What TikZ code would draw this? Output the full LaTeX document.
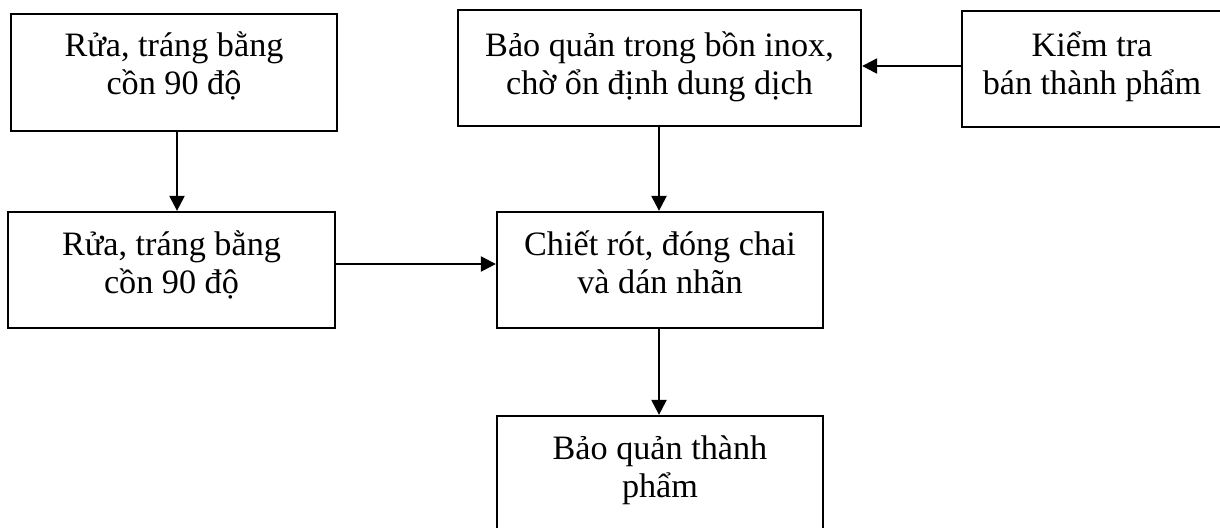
\documentclass[tikz,border=0pt]{standalone}
\usepackage{fontspec}
\setmainfont{Liberation Serif}
\usetikzlibrary{arrows.meta}
% text block: first baseline raised #1 (in px of the picture) above the node centre
\newcommand{\boxtext}[2]{\raisebox{#1\dimexpr 0.5pt\relax}[0pt][0pt]{\makebox[0pt][c]{\parbox[t]{220pt}{\centering\lineskiplimit=-20pt\relax #2}}}}
\begin{document}
\begin{tikzpicture}[x=0.5pt,y=-0.5pt,
  box/.style={draw=black,line width=1.15pt,rectangle,inner sep=0pt,
    font=\fontsize{17.1pt}{19.2pt}\selectfont},
  arr/.style={draw=black,line width=1.15pt,-{Triangle[length=7.5pt,width=7.5pt]}}]
\useasboundingbox (0,0) rectangle (1220,527);
\node[box,minimum width=326*0.5pt,minimum height=117*0.5pt] (b1) at (174,72.5) {\boxtext{16}{Rửa, tráng bằng\\cồn 90 độ}};
\node[box,minimum width=327*0.5pt,minimum height=116*0.5pt] (b2) at (171.5,270) {\boxtext{15}{Rửa, tráng bằng\\cồn 90 độ}};
\node[box,minimum width=403*0.5pt,minimum height=116*0.5pt] (b3) at (659.5,68) {\boxtext{12}{Bảo quản trong bồn inox,\\chờ ổn định dung dịch}};
\node[box,minimum width=260*0.5pt,minimum height=116*0.5pt] (b4) at (1092,69) {\boxtext{13}{Kiểm tra\\bán thành phẩm}};
\node[box,minimum width=326*0.5pt,minimum height=116*0.5pt] (b5) at (660,270) {\boxtext{15}{Chiết rót, đóng chai\\và dán nhãn}};
\node[box,minimum width=326*0.5pt,minimum height=116*0.5pt] (b6) at (660,474) {\boxtext{15}{Bảo quản thành\\phẩm}};
\draw[arr] (b1.south -| 177,0) -- (b2.north -| 177,0);
\draw[arr] (b2.east |- 0,264) -- (b5.west |- 0,264);
\draw[arr] (b3.south -| 659,0) -- (b5.north -| 659,0);
\draw[arr] (b4.west |- 0,66) -- (b3.east |- 0,66);
\draw[arr] (b5.south -| 659,0) -- (b6.north -| 659,0);
\end{tikzpicture}
\end{document}
